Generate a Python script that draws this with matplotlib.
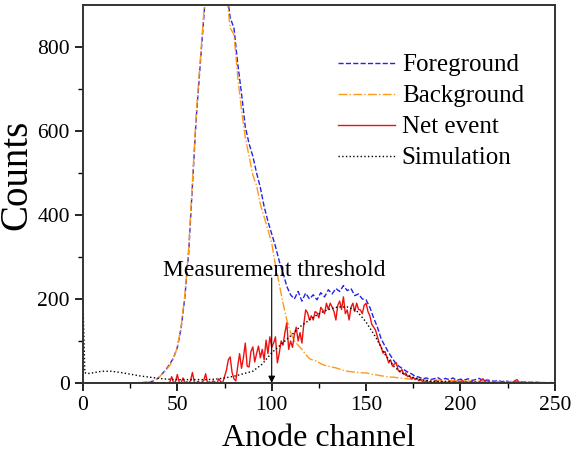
import numpy as np
import matplotlib
matplotlib.use("Agg")
import matplotlib.pyplot as plt

plt.rcParams['font.family'] = ['Liberation Serif', 'DejaVu Serif']
plt.rcParams['mathtext.fontset'] = 'stix'

# ---------------- data ----------------
fg_ch = np.arange(0, 251, 2)
foreground = [0, 0, 0, 0, 0, 0, 0, 0, 0, 0, 0, 0, 0, 0, 0, 1, 1, 2,
              3, 6, 12, 22, 32, 45, 60, 85, 130, 205, 310, 470, 630, 750, 870, 980,
              1080, 1140, 1130, 1060, 940, 870, 845, 760, 690, 610, 570, 540, 500, 465,
              420, 385, 355, 325, 290, 262, 230, 210, 200, 218, 195, 214, 200, 210,
              198, 215, 205, 222, 212, 225, 218, 232, 220, 225, 208, 212, 200, 198,
              180, 155, 133, 105, 88, 72, 58, 45, 38, 32, 26, 22, 16, 14, 10, 12,
              8, 10, 13, 7, 11, 8, 12, 6, 9, 7, 10, 6, 8, 11, 5, 7, 6, 4, 6, 3,
              5, 3, 4, 2, 3, 2, 2, 1, 2, 1, 1, 0, 1, 0]
background = [0, 0, 0, 0, 0, 0, 0, 0, 0, 0, 0, 0, 0, 0, 0, 1, 1, 2,
              3, 6, 12, 22, 30, 42, 58, 85, 135, 210, 320, 480, 640, 760, 880, 990,
              1090, 1140, 1120, 1040, 930, 845, 830, 730, 650, 585, 540, 495, 470, 425,
              395, 365, 333, 280, 235, 190, 150, 120, 100, 90, 80, 68, 58, 54,
              52, 46, 42, 40, 38, 36, 33, 30, 28, 27, 26, 25, 24, 24,
              22, 20, 19, 17, 16, 14, 14, 13, 12, 11, 10, 9, 9, 8, 8, 7,
              7, 6, 7, 6, 6, 5, 6, 5, 5, 5, 4, 5, 4, 4, 4, 3, 4, 3, 3, 3,
              2, 3, 2, 2, 2, 2, 1, 2, 1, 1, 1, 1, 1, 1]

net_ch = np.arange(0, 251)
net_event = ([0] * 45 +
             [0, 2, 15, 0, 3, 20, 2, 0, 12, 0,
              3, 0, 5, 25, 2, 0, 4, 0, 2, 6,
              22, 0, 3, 0, 5, 2, 0, 10, 3, 0,
              15, 30, 55, 62, 25, 10, 5, 40, 70, 35,
              60, 95, 40, 38, 75, 86, 50, 70, 88, 60,
              80, 55, 102, 70, 110, 85, 95, 110, 48, 71,
              100, 90, 120, 143, 80, 100, 85, 115, 133, 100,
              120, 95, 140, 174, 167, 150, 160, 150, 170, 167,
              155, 180, 174, 165, 190, 175, 190, 181, 170, 150,
              185, 195, 175, 205, 165, 174, 150, 180, 190, 170,
              190, 175, 174, 165, 185, 190, 170, 160, 140, 133,
              126, 110, 95, 85, 71, 75, 62, 48, 55, 40,
              45, 48, 30, 26, 32, 20, 24, 15, 18, 10,
              14, 8, 12, 5, 8, 3] +
             [2, 5, 1, 4, 0, 3, 6, 2, 0, 4,
              1, 3, 0, 5, 2, 1, 4, 0, 3, 2,
              6, 1, 3, 0, 2, 4, 1, 3, 0, 2,
              8, 10, 3, 1, 4, 0, 2, 3, 1, 0,
              2, 1, 3, 0, 2, 1, 0, 2, 6, 8,
              2, 1, 0, 2, 1, 0, 1, 2, 0, 1,
              0, 1, 0, 0, 1, 0, 0, 1, 0, 0])

sim_ch = [0, 1, 2, 5, 10, 15, 20, 25, 30, 35, 40, 45, 50, 55, 60, 65, 70, 75, 80, 85,
          90, 95, 100, 105, 110, 115, 120, 125, 130, 135, 140, 145, 150, 155, 160,
          165, 170, 175, 180, 185, 190, 200, 210, 250]
simulation = [200, 25, 22, 24, 28, 28, 25, 21, 17, 14, 11, 9, 8, 8, 8, 8, 9, 12, 16, 22,
              28, 45, 72, 92, 112, 134, 150, 165, 175, 181, 181, 172, 145, 110, 68,
              38, 21, 12, 7, 4, 3, 1, 0, 0]

assert len(foreground) == len(fg_ch), len(foreground)
assert len(background) == len(fg_ch), len(background)
assert len(net_event) == len(net_ch), len(net_event)
assert len(simulation) == len(sim_ch)

threshold = 100

# ---------------- plot ----------------
fig = plt.figure(figsize=(5.72, 4.59), dpi=100)
ax = fig.add_axes([0.145, 0.1656, 0.825, 0.8235])

ax.plot(fg_ch, foreground, color='#2222ee', ls='--', lw=1.0, label='Foreground')
ax.plot(fg_ch, background, color='#ff9a1a', ls='-.', lw=1.0, label='Background')
ax.plot(net_ch, net_event, color='#ee1111', ls='-', lw=1.0, label='Net event')
ax.plot(sim_ch, simulation, color='black', ls=':', lw=1.0, label='Simulation')

ax.set_xlim(0, 250)
ax.set_ylim(0, 900)
ax.set_xticks([0, 50, 100, 150, 200, 250])
ax.set_xticks([25, 75, 125, 175, 225], minor=True)
ax.set_yticks([0, 200, 400, 600, 800])
ax.set_yticks([100, 300, 500, 700], minor=True)
ax.tick_params(which='major', direction='out', length=6, width=1.2, labelsize=15.5,
               top=False, right=False)
ax.tick_params(which='minor', direction='out', length=3.5, width=1.0,
               top=False, right=False)
for s in ax.spines.values():
    s.set_linewidth(1.4)
    s.set_color('#333333')

ax.set_xlabel('Anode channel', fontsize=23, labelpad=6)
ax.set_ylabel('Counts', fontsize=28)
ax.yaxis.set_label_coords(-0.10, 0.55)

ax.annotate('', xy=(threshold, 0), xytext=(threshold, 250),
            arrowprops=dict(arrowstyle='-|>', color='black', lw=0.8,
                            mutation_scale=10, shrinkA=0, shrinkB=0))
ax.text(101.5, 254, 'Measurement threshold', ha='center', va='baseline', fontsize=17)

leg = ax.legend(loc='upper right', bbox_to_anchor=(0.982, 0.93), frameon=False,
                fontsize=18, handlelength=2.3, handletextpad=0.25,
                labelspacing=0.34)

fig.savefig('out.png', dpi=100)
